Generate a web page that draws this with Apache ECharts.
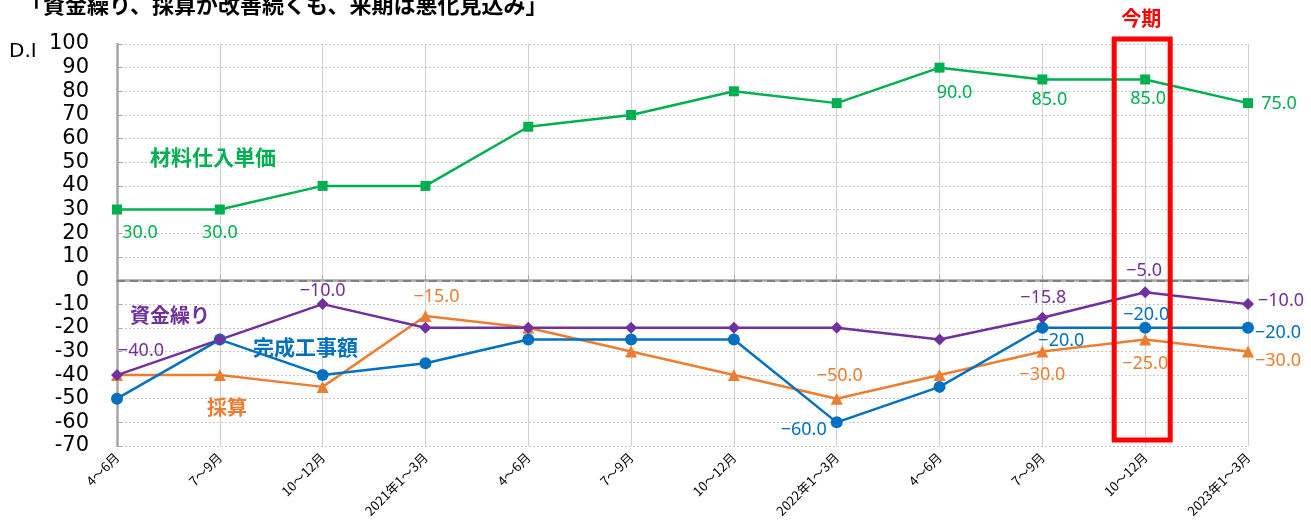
<!DOCTYPE html>
<html><head><meta charset="utf-8">
<script src="https://cdn.jsdelivr.net/npm/echarts@6/dist/echarts.min.js"></script>
<style>html,body{margin:0;padding:0;background:#fff}#c{width:1311px;height:526px}</style>
</head><body><div id="c"></div>
<script>
const categories = ['4～6月','7～9月','10～12月','2021年1～3月','4～6月','7～9月','10～12月','2022年1～3月','4～6月','7～9月','10～12月','2023年1～3月'];
const material = [30, 30, 40, 40, 65, 70, 80, 75, 90, 85, 85, 75];     // 材料仕入単価
const funds    = [-40, -25, -10, -20, -20, -20, -20, -20, -25, -15.8, -5, -10]; // 資金繰り
const works    = [-50, -25, -40, -35, -25, -25, -25, -60, -45, -20, -20, -20]; // 完成工事額
const profit   = [-40, -40, -45, -15, -20, -30, -40, -50, -40, -30, -25, -30]; // 採算
const yTicks = {min: -70, max: 100, step: 10};

// label offsets (style), keyed by point index
const greenLbl  = {0:[23,23],1:[0,23],8:[15,25],9:[7,20],10:[3,19],11:[31,1]};
const purpleLbl = {0:[24,-24],2:[0,-13],9:[1,-20],10:[-1,-21],11:[33,-3]};
const blueLbl   = {7:[-33,8],9:[19,13],10:[1,-13],11:[30,5]};
const orangeLbl = {3:[11,-19],7:[3,-23],9:[0,23],10:[0,24],11:[30,9]};

const C = {green:'#00B050', purple:'#7030A0', blue:'#0070C0', orange:'#ED7D31'};
const fmt = v => (v < 0 ? '\u2212' : '') + Math.abs(v).toFixed(1);

function build(values, cfg, color){
  return values.map((v,i)=> cfg[i] ? {value:v, label:{show:true, position:'inside', offset:cfg[i], color:color,
    fontSize:18, fontFamily:'"Noto Sans", sans-serif', formatter:()=>fmt(v)}} : v);
}
function ser(name, values, cfg, color, symbol, size){
  return {name, type:'line', data:build(values,cfg,color), symbol, symbolSize:size,
    lineStyle:{color, width:2.5}, itemStyle:{color}, label:{show:false}, z:3};
}

const chart = echarts.init(document.getElementById('c'), null, {renderer:'canvas'});
const grid = {left:117, right:63, top:44, bottom:80};
const option = {
  animation:false,
  grid,
  xAxis:{type:'category', data:categories, boundaryGap:false,
    axisLine:{lineStyle:{color:'#a6a6a6', width:2.5}},
    axisTick:{inside:true, length:5, lineStyle:{color:'#a6a6a6'}},
    splitLine:{show:true, lineStyle:{color:'#d0d0d0', width:1}},
    axisLabel:{rotate:45, fontSize:13, color:'#000', margin:9, interval:0, fontFamily:'"Noto Sans CJK JP", sans-serif'}},
  yAxis:{type:'value', min:yTicks.min, max:yTicks.max, interval:yTicks.step,
    axisLine:{show:true, lineStyle:{color:'#a6a6a6', width:2.5}},
    axisTick:{show:true, inside:true, length:5, lineStyle:{color:'#a6a6a6'}},
    splitLine:{lineStyle:{color:'#c8c8c8', type:[2,2], width:1}},
    axisLabel:{fontSize:21, color:'#000', margin:28, fontFamily:'"DejaVu Sans", sans-serif',
      formatter:v=>String(v)}},
  series:[
    Object.assign(ser('採算', profit, orangeLbl, C.orange, 'triangle', 12), {
      markLine:{silent:true, symbol:'none', label:{show:false}, lineStyle:{color:'#808080', width:2, type:[8,5]}, data:[{yAxis:0}], z:1}}),
    ser('完成工事額', works, blueLbl, C.blue, 'circle', 12),
    ser('資金繰り', funds, purpleLbl, C.purple, 'diamond', 12),
    ser('材料仕入単価', material, greenLbl, C.green, 'rect', 10)
  ]
};
chart.setOption(option);

const cx = chart.convertToPixel({xAxisIndex:0}, categories.length - 2);
const yTop = chart.convertToPixel({yAxisIndex:0}, yTicks.max);
const yBot = chart.convertToPixel({yAxisIndex:0}, yTicks.min);
const jp = '"Noto Sans CJK JP", sans-serif';
chart.setOption({graphic:[
  {type:'text', left:21, top:-6, style:{text:'「資金繰り、採算が改善続くも、来期は悪化見込み」', font:'bold 22px '+jp, fill:'#000'}},
  {type:'text', x:9, y:52, style:{text:'D.I', font:'20px "DejaVu Sans", sans-serif', fill:'#000', verticalAlign:'middle'}},
  {type:'rect', shape:{x:cx-31, y:yTop-5, width:56, height:(yBot-6)-(yTop-5)}, style:{fill:'none', stroke:'#FF0000', lineWidth:5}, z:10},
  {type:'text', x:cx-4, y:18, style:{text:'今期', font:'bold 20px '+jp, fill:'#FF0000', align:'center', verticalAlign:'middle'}, z:10},
  {type:'text', x:150, y:157, style:{text:'材料仕入単価', font:'bold 21px '+jp, fill:C.green, verticalAlign:'middle'}},
  {type:'text', x:130, y:315, style:{text:'資金繰り', font:'bold 20px '+jp, fill:C.purple, verticalAlign:'middle'}},
  {type:'text', x:253, y:347, style:{text:'完成工事額', font:'bold 21px '+jp, fill:C.blue, verticalAlign:'middle'}},
  {type:'text', x:207, y:407, style:{text:'採算', font:'bold 20px '+jp, fill:C.orange, verticalAlign:'middle'}}
]});
</script></body></html>
